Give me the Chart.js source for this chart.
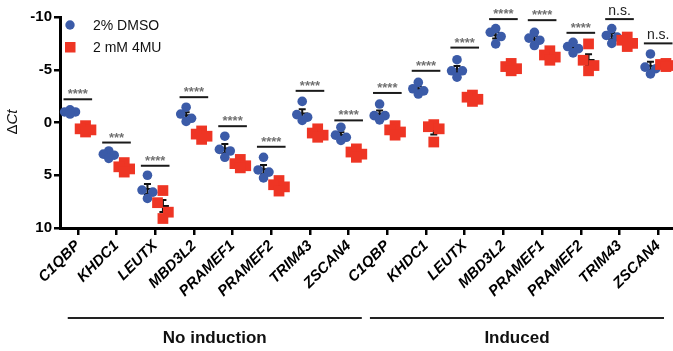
<!DOCTYPE html>
<html>
<head>
<meta charset="utf-8">
<script src="https://cdn.jsdelivr.net/npm/chart.js@4"></script>
<style>
  html, body { margin: 0; padding: 0; background: #fff; }
  #wrap { width: 673px; height: 351px; }
</style>
</head>
<body>
<div id="wrap"><canvas id="chart"></canvas></div>
<script>
// genes (16 columns: 8 no induction + 8 induced)
const genes = ['C1QBP', 'KHDC1', 'LEUTX', 'MBD3L2', 'PRAMEF1', 'PRAMEF2', 'TRIM43', 'ZSCAN4',
               'C1QBP', 'KHDC1', 'LEUTX', 'MBD3L2', 'PRAMEF1', 'PRAMEF2', 'TRIM43', 'ZSCAN4'];
const groupNames = ['No induction', 'Induced'];
const seriesNames = ['2% DMSO', '2 mM 4MU'];

// ΔCt replicates, 2% DMSO
const dmso = [
    [-1.2, -1.0, -1.0, -0.8],
    [2.7, 3.0, 3.1, 3.4],
    [5.0, 6.4, 6.6, 7.2],
    [-1.45, -0.8, -0.4, -0.1],
    [1.3, 2.55, 2.7, 3.3],
    [3.3, 4.5, 4.7, 5.25],
    [-2.0, -0.75, -0.5, -0.2],
    [0.45, 1.2, 1.4, 1.7],
    [-1.75, -0.65, -0.65, -0.25],
    [-3.8, -3.2, -3.0, -2.7],
    [-5.95, -4.9, -4.9, -4.3],
    [-8.9, -8.55, -8.15, -7.45],
    [-8.55, -8.0, -7.8, -7.3],
    [-7.6, -7.2, -7.0, -6.6],
    [-8.9, -8.25, -8.1, -7.5],
    [-6.5, -5.25, -5.1, -4.6]
];

// ΔCt replicates, 2 mM 4MU
const mu4 = [
    [0.3, 0.6, 0.7, 0.9],
    [3.8, 4.2, 4.4, 4.7],
    [6.45, 7.6, 8.5, 9.1],
    [0.8, 1.1, 1.3, 1.6],
    [3.5, 3.9, 4.1, 4.3],
    [5.5, 5.9, 6.1, 6.5],
    [0.6, 1.0, 1.2, 1.4],
    [2.5, 2.8, 3.0, 3.3],
    [0.3, 0.7, 0.9, 1.2],
    [0.2, 0.4, 0.6, 1.85],
    [-2.6, -2.4, -2.2, -2.0],
    [-5.6, -5.3, -5.1, -4.9],
    [-6.8, -6.4, -6.2, -5.9],
    [-7.45, -5.9, -5.4, -4.9],
    [-8.1, -7.8, -7.5, -7.2],
    [-5.6, -5.5, -5.4, -5.3]
];

// significance bar level and label per gene
const sigLevel = [-2.2, 1.9, 4.1, -2.4, 0.35, 2.3, -3.0, -0.2, -2.8, -4.9, -7.1, -9.8, -9.7, -8.5, -9.8, -7.5];
const sigLabel = ['****', '***', '****', '****', '****', '****', '****', '****',
                  '****', '****', '****', '****', '****', '****', 'n.s.', 'n.s.'];

const yTicks = [-10, -5, 0, 5, 10];

// horizontal spread of replicates inside a column
const jitter = [0, -0.14, 0.14, 0];
const blueColor = '#3b5ba8';
const redColor = '#ee3524';
const FONT = '"Liberation Sans", Arial, sans-serif';

function toPoints(sets, shift) {
    const pts = [];
    sets.forEach((vals, i) => {
        vals.forEach((v, k) => pts.push({ x: i + shift + jitter[k], y: v }));
    });
    return pts;
}

function meanSem(vals) {
    const m = vals.reduce((a, b) => a + b, 0) / vals.length;
    const sd = Math.sqrt(vals.reduce((a, b) => a + (b - m) * (b - m), 0) / (vals.length - 1));
    return [m, sd / Math.sqrt(vals.length)];
}

// mean + SEM drawn under the points
const errBars = {
    id: 'errBars',
    beforeDatasetsDraw(chart) {
        const ctx = chart.ctx;
        const xs = chart.scales.x, ys = chart.scales.y;
        ctx.save();
        ctx.strokeStyle = '#111';
        ctx.lineWidth = 2;
        [[dmso, -0.2], [mu4, 0.2]].forEach(([sets, shift]) => {
            sets.forEach((vals, i) => {
                const [m, s] = meanSem(vals);
                const cx = xs.getPixelForValue(i + shift);
                const ym = ys.getPixelForValue(m);
                const y1 = ys.getPixelForValue(m - s), y2 = ys.getPixelForValue(m + s);
                ctx.beginPath();
                ctx.moveTo(cx - 6, ym); ctx.lineTo(cx + 6, ym);
                ctx.moveTo(cx, y1); ctx.lineTo(cx, y2);
                ctx.moveTo(cx - 3.5, y1); ctx.lineTo(cx + 3.5, y1);
                ctx.moveTo(cx - 3.5, y2); ctx.lineTo(cx + 3.5, y2);
                ctx.stroke();
            });
        });
        ctx.restore();
    }
};

// significance bars, legend, labels
const extras = {
    id: 'extras',
    afterDatasetsDraw(chart) {
        const ctx = chart.ctx;
        const xs = chart.scales.x, ys = chart.scales.y;
        const area = chart.chartArea;
        ctx.save();

        // x axis line runs on to the right edge
        ctx.strokeStyle = '#000';
        ctx.lineWidth = 3;
        ctx.beginPath(); ctx.moveTo(area.right - 2, area.bottom + 0.5); ctx.lineTo(chart.width, area.bottom + 0.5); ctx.stroke();

        // significance bars
        ctx.textAlign = 'center';
        ctx.textBaseline = 'alphabetic';
        sigLevel.forEach((lv, i) => {
            const x0 = xs.getPixelForValue(i - 0.37), x1 = xs.getPixelForValue(i + 0.37);
            const y = ys.getPixelForValue(lv);
            ctx.strokeStyle = '#1a1a1a';
            ctx.lineWidth = 2;
            ctx.beginPath(); ctx.moveTo(x0, y); ctx.lineTo(x1, y); ctx.stroke();
            if (sigLabel[i] === 'n.s.') {
                ctx.fillStyle = '#222';
                ctx.font = '14px ' + FONT;
                ctx.fillText(sigLabel[i], (x0 + x1) / 2, y - 4);
            } else {
                ctx.fillStyle = '#707070';
                ctx.font = 'bold 13px ' + FONT;
                ctx.fillText(sigLabel[i], (x0 + x1) / 2, y - 1);
            }
        });

        // legend
        ctx.fillStyle = blueColor;
        ctx.beginPath(); ctx.arc(70, 25, 4.7, 0, Math.PI * 2); ctx.fill();
        ctx.fillStyle = redColor;
        ctx.fillRect(65, 42, 10.5, 10.5);
        ctx.fillStyle = '#111';
        ctx.textAlign = 'left';
        ctx.textBaseline = 'middle';
        ctx.font = '14px ' + FONT;
        ctx.fillText(seriesNames[0], 93, 26);
        ctx.fillText(seriesNames[1], 93, 48);

        // y title: ΔCt
        ctx.save();
        ctx.translate(13, 122);
        ctx.rotate(-Math.PI / 2);
        ctx.textAlign = 'left';
        ctx.font = '15px ' + FONT;
        const w1 = ctx.measureText('Δ').width;
        ctx.font = 'italic 15px ' + FONT;
        const w2 = ctx.measureText('Ct').width;
        const start = -(w1 + w2) / 2;
        ctx.font = '15px ' + FONT;
        ctx.fillText('Δ', start, 0);
        ctx.font = 'italic 15px ' + FONT;
        ctx.fillText('Ct', start + w1, 0);
        ctx.restore();

        // group bars below axis
        ctx.strokeStyle = '#222';
        ctx.lineWidth = 2;
        ctx.fillStyle = '#111';
        ctx.textAlign = 'center';
        ctx.textBaseline = 'middle';
        ctx.font = 'bold 17px ' + FONT;
        [[-0.26, 7.34], [7.55, 15.15]].forEach(([a, b], g) => {
            const x0 = xs.getPixelForValue(a), x1 = xs.getPixelForValue(b);
            ctx.beginPath(); ctx.moveTo(x0, 318); ctx.lineTo(x1, 318); ctx.stroke();
            ctx.fillText(groupNames[g], (x0 + x1) / 2, 338);
        });
        ctx.restore();
    }
};

const ctx = document.getElementById('chart').getContext('2d');
const chart = new Chart(ctx, {
    type: 'scatter',
    data: {
        datasets: [{
            label: seriesNames[1],
            data: toPoints(mu4, 0.2),
            pointStyle: 'rect',
            pointRadius: 7.6,
            backgroundColor: redColor,
            borderWidth: 0,
            clip: false,
            order: 0
        }, {
            label: seriesNames[0],
            data: toPoints(dmso, -0.2),
            pointStyle: 'circle',
            pointRadius: 4.8,
            backgroundColor: blueColor,
            borderWidth: 0,
            clip: false,
            order: 1
        }]
    },
    options: {
        responsive: true,
        maintainAspectRatio: false,
        animation: false,
        layout: { padding: { top: 17, right: 0, bottom: 0, left: 0 } },
        plugins: {
            legend: { display: false },
            tooltip: { enabled: false }
        },
        scales: {
            x: {
                type: 'linear',
                min: -0.46,
                max: 15.16,
                afterBuildTicks: (scale) => {
                    scale.ticks = genes.map((g, i) => ({ value: i }));
                },
                afterFit: (scale) => { scale.height = 123; },
                ticks: {
                    autoSkip: false,
                    minRotation: 45,
                    maxRotation: 45,
                    padding: 2,
                    color: '#000',
                    font: { family: FONT, size: 15, weight: 'bold', style: 'italic' },
                    callback: (v) => genes[v]
                },
                grid: { drawOnChartArea: false, drawTicks: true, tickLength: 7, lineWidth: 2.5, color: '#000' },
                border: { color: '#000', width: 3 }
            },
            y: {
                reverse: true,
                min: -10,
                max: 10,
                afterBuildTicks: (scale) => {
                    scale.ticks = yTicks.map(v => ({ value: v }));
                },
                afterFit: (scale) => { scale.width = 60; },
                ticks: {
                    padding: 2,
                    color: '#000',
                    font: { family: FONT, size: 15, weight: 'bold' }
                },
                grid: { drawOnChartArea: false, drawTicks: true, tickLength: 6, lineWidth: 2.5, color: '#000' },
                border: { color: '#000', width: 3 }
            }
        }
    },
    plugins: [errBars, extras]
});
</script>
</body>
</html>
